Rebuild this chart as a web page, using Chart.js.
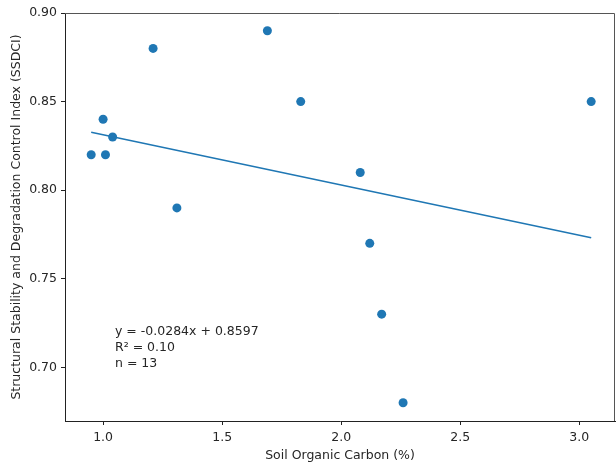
<!DOCTYPE html>
<html>
<head>
<meta charset="utf-8">
<script src="https://cdn.jsdelivr.net/npm/chart.js@4/dist/chart.umd.min.js"></script>
<style>
  html, body { margin: 0; padding: 0; background: #fff; }
  #wrap { width: 616px; height: 467px; }
</style>
</head>
<body>
<div id="wrap"><canvas id="chart"></canvas></div>
<script>
// Soil organic carbon (%) vs SSDCI for the 13 sampled sites
const soc = [0.95, 1.00, 1.01, 1.04, 1.21, 1.31, 1.69, 1.83, 2.08, 2.12, 2.17, 2.26, 3.05];
const ssdci = [0.82, 0.84, 0.82, 0.83, 0.88, 0.79, 0.89, 0.85, 0.81, 0.77, 0.73, 0.68, 0.85];

// fitted trend line
const slope = -0.0284;
const intercept = 0.8597;
const rSquared = 0.10;

const xTicks = [1.0, 1.5, 2.0, 2.5, 3.0];
const yTicks = [0.70, 0.75, 0.80, 0.85, 0.90];

const blue = '#1f77b4';
const ink = '#262626';
const font = { family: 'DejaVu Sans', size: 12.5 };

const points = soc.map((x, i) => ({ x: x, y: ssdci[i] }));
const xLo = Math.min(...soc);
const xHi = Math.max(...soc);
const trend = [xLo, xHi].map(x => ({ x: x, y: slope * x + intercept }));

const statsText = [
    'y = ' + slope.toFixed(4) + 'x + ' + intercept.toFixed(4),
    'R\u00b2 = ' + rSquared.toFixed(2),
    'n = ' + soc.length
];

// top and right spines plus the equation block
const framePlugin = {
    id: 'frame',
    afterDraw(chart) {
        const { ctx, chartArea: a, scales } = chart;
        ctx.save();
        ctx.strokeStyle = '#555';
        ctx.lineWidth = 1;
        ctx.beginPath();
        ctx.moveTo(a.left, a.top + 0.5);
        ctx.lineTo(a.right - 0.5, a.top + 0.5);
        ctx.lineTo(a.right - 0.5, a.bottom);
        ctx.stroke();

        ctx.fillStyle = ink;
        ctx.font = '12.5px "DejaVu Sans"';
        ctx.textAlign = 'left';
        ctx.textBaseline = 'alphabetic';
        const tx = scales.x.getPixelForValue(1.05);
        const ty = scales.y.getPixelForValue(0.70);
        statsText.forEach((line, i) => {
            ctx.fillText(line, tx, ty - (statsText.length - 1 - i) * 16);
        });
        ctx.restore();
    }
};

new Chart(document.getElementById('chart'), {
    data: {
        datasets: [
            {
                type: 'scatter',
                data: points,
                backgroundColor: blue,
                borderWidth: 0,
                pointRadius: 4.5,
                pointHoverRadius: 4.5
            },
            {
                type: 'line',
                data: trend,
                borderColor: blue,
                borderWidth: 1.5,
                pointRadius: 0,
                fill: false
            }
        ]
    },
    options: {
        responsive: true,
        maintainAspectRatio: false,
        animation: false,
        layout: {
            autoPadding: false,
            padding: { top: 13, right: 1, left: 0, bottom: 0 }
        },
        plugins: {
            legend: { display: false },
            tooltip: { enabled: false }
        },
        scales: {
            x: {
                type: 'linear',
                min: 0.84,
                max: 3.15,
                afterBuildTicks: s => { s.ticks = xTicks.map(v => ({ value: v })); },
                afterFit: s => {
                    s.height = 46;
                    s.paddingLeft = 0;
                    s.paddingRight = 0;
                },
                ticks: {
                    color: ink,
                    font: font,
                    padding: 5,
                    maxRotation: 0,
                    callback: v => Number(v).toFixed(1)
                },
                grid: {
                    drawOnChartArea: false,
                    drawTicks: true,
                    tickLength: 4,
                    color: '#222'
                },
                border: { color: '#222', width: 1 },
                title: {
                    display: true,
                    text: 'Soil Organic Carbon (%)',
                    color: ink,
                    font: font,
                    padding: { top: 0, bottom: 4 }
                }
            },
            y: {
                type: 'linear',
                min: 0.6697,
                max: 0.90,
                afterBuildTicks: s => { s.ticks = yTicks.map(v => ({ value: v })); },
                afterFit: s => {
                    s.width = 65;
                    s.paddingTop = 0;
                    s.paddingBottom = 0;
                },
                ticks: {
                    color: ink,
                    font: font,
                    padding: 4,
                    callback: v => Number(v).toFixed(2)
                },
                grid: {
                    drawOnChartArea: false,
                    drawTicks: true,
                    tickLength: 4,
                    color: '#222'
                },
                border: { color: '#222', width: 1 },
                title: {
                    display: true,
                    text: 'Structural Stability and Degradation Control Index (SSDCI)',
                    color: ink,
                    font: font,
                    padding: { top: 9, bottom: 0 }
                }
            }
        }
    },
    plugins: [framePlugin]
});
</script>
</body>
</html>
